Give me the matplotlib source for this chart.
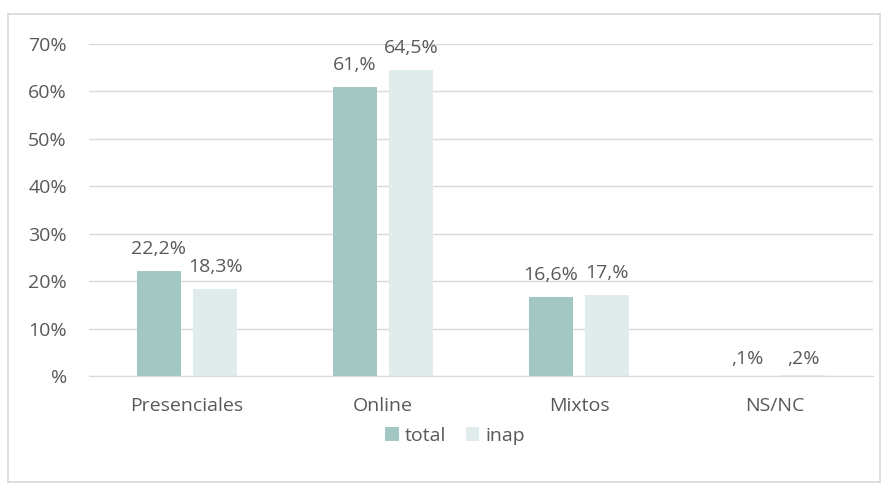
import matplotlib
matplotlib.use("Agg")
import numpy as np
import matplotlib.pyplot as plt
from matplotlib.patches import Rectangle

categories = ["Presenciales", "Online", "Mixtos", "NS/NC"]
total = [22.2, 61.0, 16.6, 0.1]
inap = [18.3, 64.5, 17.0, 0.2]
total_labels = ["22,2%", "61,%", "16,6%", ",1%"]
inap_labels = ["18,3%", "64,5%", "17,%", ",2%"]
yticks = [0, 10, 20, 30, 40, 50, 60, 70]
ytick_labels = ["%", "10%", "20%", "30%", "40%", "50%", "60%", "70%"]

plt.rcParams['font.family'] = ['Open Sans', 'DejaVu Sans']
text_color = "#595959"
grid_color = "#D9D9D9"
fs = 14

fig = plt.figure(figsize=(8.88, 4.88), dpi=100)
ax = fig.add_axes([89 / 888, 1 - 376 / 488, 784 / 888, 332 / 488])

x = np.arange(len(categories))
w = 0.225
off = 0.143
b1 = ax.bar(x - off, total, w, color="#A3C7C3", label="total", zorder=2)
b2 = ax.bar(x + off, inap, w, color="#DFECEB", label="inap", zorder=2)

for bars, labels in ((b1, total_labels), (b2, inap_labels)):
    for bar, lab in zip(bars, labels):
        # tiny values sit a bit lower, like the original
        gap = 3.6 if bar.get_height() > 1 else 2.4
        ax.text(bar.get_x() + bar.get_width() / 2, bar.get_height() + gap, lab,
                ha="center", va="baseline", fontsize=fs, color=text_color)

ax.set_xlim(-0.5, len(categories) - 0.5)
ax.set_ylim(0, 70)
ax.set_yticks(yticks)
ax.set_yticklabels(ytick_labels)
ax.set_xticks(x)
ax.set_xticklabels(categories)
ax.tick_params(axis="both", length=0, labelsize=fs, labelcolor=text_color)
ax.tick_params(axis="y", pad=16)
ax.tick_params(axis="x", pad=15)
ax.grid(axis="y", color=grid_color, linewidth=1, zorder=0)
for s in ["top", "right", "left"]:
    ax.spines[s].set_visible(False)
ax.spines["bottom"].set_color(grid_color)
ax.spines["bottom"].set_zorder(3)

fig.legend(loc="center", bbox_to_anchor=(455 / 888, 1 - 436 / 488), ncol=2, frameon=False,
           fontsize=fs, labelcolor=text_color, handlelength=0.7, handleheight=0.7,
           handletextpad=0.3, columnspacing=1.0)

fig.patches.append(Rectangle((8 / 888, 6 / 488), 872 / 888, 468 / 488, transform=fig.transFigure,
                             fill=False, edgecolor=grid_color, linewidth=1.2))

fig.savefig("out.png", dpi=100)
